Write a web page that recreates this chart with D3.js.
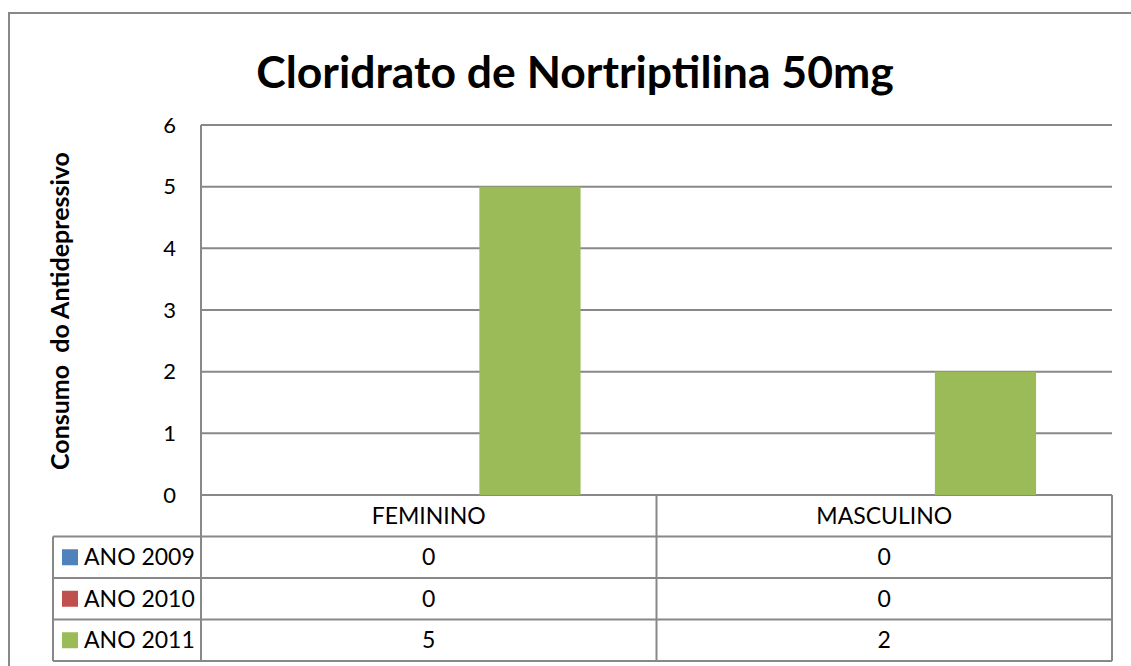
<!DOCTYPE html>
<html>
<head>
<meta charset="utf-8">
<script src="https://cdnjs.cloudflare.com/ajax/libs/d3/7.8.5/d3.min.js"></script>
<style>
  body { margin: 0; background: #fff; }
  svg text { font-family: Lato, sans-serif; fill: #000; }
</style>
</head>
<body>
<script>
const width = 1131;
const height = 666;

const categories = ["FEMININO", "MASCULINO"];
const seriesNames = ["ANO 2009", "ANO 2010", "ANO 2011"];
const ano2009 = [0, 0];
const ano2010 = [0, 0];
const ano2011 = [5, 2];
const yTicks = [0, 1, 2, 3, 4, 5, 6];
const colors = ["#4F81BD", "#C0504D", "#9BBB59"];

const seriesValues = [ano2009, ano2010, ano2011];

const plot = { left: 201, right: 1112, top: 125, bottom: 495 };
const rowH = 41.5;
const tableLeft = 53;
const lineColor = "#888888";
const labelSize = "23px";

const svg = d3
  .select("body")
  .append("svg")
  .attr("width", width)
  .attr("height", height);

// outer chart border (runs past the right and bottom edges)
svg
  .append("rect")
  .attr("x", 9)
  .attr("y", 13)
  .attr("width", 1140)
  .attr("height", 680)
  .attr("fill", "none")
  .attr("stroke", lineColor)
  .attr("stroke-width", 2);

svg
  .append("text")
  .attr("x", 575)
  .attr("y", 88)
  .attr("text-anchor", "middle")
  .style("font-size", "44.5px")
  .style("font-weight", "bold")
  .text("Cloridrato de Nortriptilina 50mg");

const x0 = d3
  .scaleBand()
  .domain(categories)
  .range([plot.left, plot.right])
  .paddingInner(0)
  .paddingOuter(0);

const x1 = d3
  .scaleBand()
  .domain(seriesNames)
  .range([0, x0.bandwidth()])
  .paddingInner(0)
  .paddingOuter(0.75);

const yScale = d3
  .scaleLinear()
  .domain([0, 6])
  .range([plot.bottom, plot.top]);

// gridlines
svg
  .append("g")
  .selectAll("line")
  .data(yTicks)
  .enter()
  .append("line")
  .attr("x1", plot.left)
  .attr("x2", plot.right)
  .attr("y1", (d) => yScale(d))
  .attr("y2", (d) => yScale(d))
  .attr("stroke", lineColor)
  .attr("stroke-width", 2);

// bars
const rows = [];
seriesNames.forEach((s, i) => {
  categories.forEach((c, j) => {
    rows.push({ series: s, cat: c, value: seriesValues[i][j], color: colors[i] });
  });
});

svg
  .append("g")
  .selectAll("rect")
  .data(rows.filter((d) => d.value > 0))
  .enter()
  .append("rect")
  .attr("x", (d) => x0(d.cat) + x1(d.series))
  .attr("width", x1.bandwidth())
  .attr("y", (d) => yScale(d.value))
  .attr("height", (d) => yScale(0) - yScale(d.value))
  .attr("fill", (d) => d.color);

// y axis
const yAxis = d3
  .axisLeft(yScale)
  .tickValues(yTicks)
  .tickFormat(d3.format("d"))
  .tickSize(0)
  .tickPadding(25);
const yg = svg
  .append("g")
  .attr("transform", `translate(${plot.left},0)`)
  .call(yAxis);
yg.select(".domain").remove();
yg.selectAll("text")
  .style("font-size", "22px")
  .style("font-family", "Lato, sans-serif");

svg
  .append("text")
  .attr("transform", "translate(69,311) rotate(-90)")
  .attr("text-anchor", "middle")
  .style("font-size", "25px")
  .style("font-weight", "bold")
  .style("white-space", "pre")
  .text("Consumo  do Antidepressivo");

// data table
const tableBottom = plot.bottom + rowH * 4;
const tg = svg.append("g");

// vertical axis line down through the table
tg.append("line")
  .attr("x1", plot.left).attr("x2", plot.left)
  .attr("y1", plot.top).attr("y2", tableBottom)
  .attr("stroke", lineColor).attr("stroke-width", 2);

// category dividers and right edge
[x0(categories[1]), plot.right].forEach((xv) => {
  tg.append("line")
    .attr("x1", xv).attr("x2", xv)
    .attr("y1", plot.bottom).attr("y2", tableBottom)
    .attr("stroke", lineColor).attr("stroke-width", 2);
});

tg.append("line")
  .attr("x1", tableLeft).attr("x2", tableLeft)
  .attr("y1", plot.bottom + rowH).attr("y2", tableBottom)
  .attr("stroke", lineColor).attr("stroke-width", 2);

[1, 2, 3, 4].forEach((r) => {
  tg.append("line")
    .attr("x1", tableLeft).attr("x2", plot.right)
    .attr("y1", plot.bottom + rowH * r).attr("y2", plot.bottom + rowH * r)
    .attr("stroke", lineColor).attr("stroke-width", 2);
});

tg.selectAll(".cat")
  .data(categories)
  .enter()
  .append("text")
  .attr("x", (d) => x0(d) + x0.bandwidth() / 2)
  .attr("y", plot.bottom + rowH / 2)
  .attr("dy", "0.35em")
  .attr("text-anchor", "middle")
  .style("font-size", labelSize)
  .text((d) => d);

seriesNames.forEach((s, i) => {
  const cy = plot.bottom + rowH * (i + 1) + rowH / 2;
  tg.append("rect")
    .attr("x", 62)
    .attr("y", cy - 8)
    .attr("width", 16)
    .attr("height", 16)
    .attr("fill", colors[i]);
  tg.append("text")
    .attr("x", 84)
    .attr("y", cy)
    .attr("dy", "0.35em")
    .style("font-size", labelSize)
    .text(s);
  categories.forEach((c, j) => {
    tg.append("text")
      .attr("x", x0(c) + x0.bandwidth() / 2)
      .attr("y", cy)
      .attr("dy", "0.35em")
      .attr("text-anchor", "middle")
      .style("font-size", labelSize)
      .text(seriesValues[i][j]);
  });
});
</script>
</body>
</html>
